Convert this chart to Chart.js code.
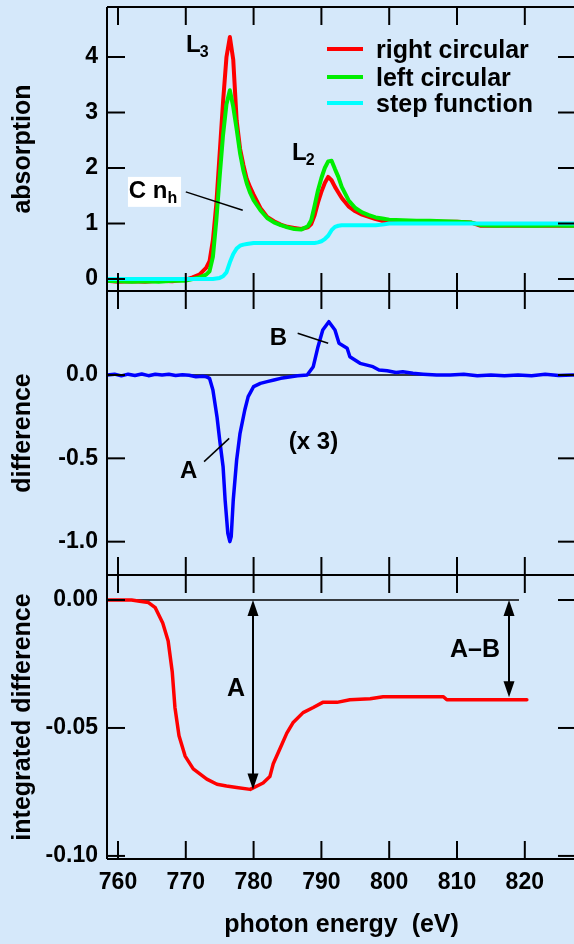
<!DOCTYPE html>
<html><head><meta charset="utf-8">
<script src="https://cdn.jsdelivr.net/npm/chart.js@4.4.1/dist/chart.umd.min.js"></script>
<style>
html,body{margin:0;padding:0;background:#d5e8fa;overflow:hidden;width:574px;height:944px;}
#wrap{position:absolute;left:0;top:0;width:578px;height:944px;}
</style></head><body><div id="wrap"><canvas id="c"></canvas></div>
<script>
// ---------- data ----------
const xTicks = [760, 770, 780, 790, 800, 810, 820];
const absTicks = [0, 1, 2, 3, 4];
const diffTicks = [-1.0, -0.5, 0.0];
const intTicks = [0.00, -0.05, -0.10];

const absEnergy = [758.4, 760, 762, 764, 766, 768, 770, 771, 772, 773, 773.5, 774, 774.5, 775, 775.5, 776, 776.5, 777, 777.5, 778, 778.5, 779, 779.5, 780, 781, 782, 783, 784, 785, 786, 787, 788, 788.5, 789, 789.5, 790, 790.5, 791, 791.5, 792, 792.5, 793, 794, 795, 796, 797, 798, 799, 800, 802, 804, 806, 808, 810, 812, 813.5, 816, 818, 820, 822, 824, 826, 828];
const rightCircular = [-0.03, -0.05, -0.04, -0.05, -0.03, -0.04, -0.01, 0.03, 0.08, 0.2, 0.32, 0.7, 1.35, 2.27, 3.2, 4.0, 4.36, 3.95, 2.86, 2.35, 2.05, 1.8, 1.65, 1.52, 1.28, 1.12, 1.04, 0.98, 0.94, 0.92, 0.9, 0.93, 0.99, 1.15, 1.38, 1.57, 1.73, 1.84, 1.78, 1.66, 1.56, 1.46, 1.31, 1.22, 1.16, 1.12, 1.08, 1.05, 1.04, 1.04, 1.04, 1.04, 1.03, 1.03, 1.02, 0.96, 0.96, 0.96, 0.96, 0.96, 0.96, 0.96, 0.96];
const leftCircular = [-0.03, -0.04, -0.05, -0.04, -0.05, -0.03, -0.03, 0.0, 0.03, 0.08, 0.14, 0.4, 1.05, 1.85, 2.6, 3.15, 3.4, 3.1, 2.7, 2.27, 1.95, 1.72, 1.55, 1.42, 1.24, 1.1, 1.02, 0.97, 0.93, 0.9, 0.89, 0.95, 1.06, 1.32, 1.6, 1.82, 2.0, 2.12, 2.13, 1.98, 1.84, 1.66, 1.42, 1.28, 1.2, 1.15, 1.11, 1.09, 1.07, 1.06, 1.05, 1.05, 1.04, 1.03, 1.02, 0.97, 0.96, 0.97, 0.96, 0.96, 0.97, 0.96, 0.96];
const stepFunction = [0.0, 0.0, 0.0, 0.0, 0.0, 0.0, 0.0, 0.0, 0.0, 0.0, 0.0, 0.0, 0.01, 0.02, 0.05, 0.12, 0.3, 0.45, 0.55, 0.6, 0.62, 0.63, 0.64, 0.65, 0.65, 0.65, 0.65, 0.65, 0.65, 0.65, 0.65, 0.65, 0.65, 0.65, 0.66, 0.68, 0.72, 0.78, 0.88, 0.94, 0.96, 0.97, 0.97, 0.97, 0.97, 0.97, 0.97, 0.98, 1.0, 1.0, 1.0, 1.0, 1.0, 1.0, 1.0, 1.0, 1.0, 1.0, 1.0, 1.0, 1.0, 1.0, 1.0];

const diffEnergy = [758.4, 759.5, 760.5, 761.5, 762.5, 763.5, 764.5, 765.5, 766.5, 767.5, 768.5, 769.5, 770.5, 771.5, 772.5, 773, 773.5, 774, 774.6, 775, 775.5, 775.8, 776.2, 776.5, 776.7, 777, 777.5, 778, 778.7, 779.2, 780, 781, 782, 783, 784, 785.5, 786.5, 787.9, 788.8, 789.5, 790.2, 791.1, 792, 792.6, 793.8, 794.2, 795.7, 797.6, 798.5, 799.7, 801, 802, 803.5, 805, 807, 809, 811, 813, 815, 817, 819, 821, 823, 825, 827, 828];
const difference = [0.0, 0.005, -0.005, 0.005, -0.003, 0.006, -0.004, 0.005, 0.0, 0.004, -0.003, 0.002, -0.002, -0.01, -0.008, -0.01, -0.02, -0.09, -0.25, -0.39, -0.55, -0.75, -0.95, -1.0, -0.97, -0.75, -0.51, -0.35, -0.21, -0.13, -0.07, -0.05, -0.04, -0.03, -0.02, -0.01, -0.005, 0.0, 0.05, 0.17, 0.27, 0.32, 0.27, 0.19, 0.16, 0.11, 0.07, 0.05, 0.03, 0.025, 0.015, 0.02, 0.01, 0.005, 0.0, 0.0, 0.005, -0.005, 0.0, -0.005, 0.0, -0.004, 0.004, -0.003, 0.0, 0.0];

const intEnergy = [758.4, 760, 762, 763.2, 764.5, 765.5, 766.6, 767.4, 768, 768.4, 769, 769.9, 771.1, 773.1, 774.6, 776, 777.5, 779.5, 781.4, 782.4, 782.9, 783.9, 784.9, 785.8, 787.3, 788.8, 790.2, 792.3, 794.2, 797.2, 799.1, 804, 808, 808.5, 812, 816, 820.3];
const integratedDiff = [0, 0, 0, -0.0005, -0.001, -0.003, -0.009, -0.016, -0.028, -0.042, -0.053, -0.061, -0.066, -0.070, -0.072, -0.0727, -0.0733, -0.074, -0.0715, -0.069, -0.064, -0.058, -0.052, -0.048, -0.044, -0.042, -0.040, -0.040, -0.039, -0.0386, -0.0378, -0.0378, -0.0378, -0.039, -0.039, -0.039, -0.039];

// ---------- helpers ----------
const pts = (xs, ys) => xs.map((x, i) => ({x: x, y: ys[i]}));
const FONT = '"Liberation Sans", Arial, Helvetica, sans-serif';

const annot = {
  L3: {x: 770.03, y: 4.09, sub: '3'},
  L2: {x: 785.66, y: 2.14, sub: '2'},
  cBox: {x1: 761.47, y1: 1.84, x2: 769.3, y2: 1.30, tx: 761.6, ty: 1.46},
  cLead: [770.0, 1.57, 778.4, 1.24],
  midA: {x: 769.14, y: -0.62},
  midALead: [772.7, -0.52, 776.4, -0.38],
  midB: {x: 782.4, y: 0.18},
  midBLead: [786.5, 0.25, 791.0, 0.19],
  x3: {x: 785.2, y: -0.444},
  botA: {x: 776.08, y: -0.0374},
  botAB: {x: 808.97, y: -0.0222},
  arrowA: {x: 779.91, from: 0, to: -0.074},
  arrowAB: {x: 817.67, from: 0, to: -0.038},
  refLine: {from: 759.56, to: 819.14, y: 0}
};

function seg(ctx, x1, y1, x2, y2) { ctx.beginPath(); ctx.moveTo(x1, y1); ctx.lineTo(x2, y2); ctx.stroke(); }

const deco = {
  id: 'deco',
  beforeDatasetsDraw(chart) {
    const {ctx, chartArea: ca, scales: s} = chart;
    ctx.save();
    ctx.strokeStyle = '#000'; ctx.lineWidth = 1.5;
    const y0 = s.yMid.getPixelForValue(0);
    seg(ctx, ca.left, y0, ca.right, y0);
    const r = annot.refLine, yb = s.yBot.getPixelForValue(r.y);
    seg(ctx, s.x.getPixelForValue(r.from), yb, s.x.getPixelForValue(r.to), yb);
    ctx.restore();
  },
  afterDatasetsDraw(chart) {
    const {ctx, chartArea: ca, scales: s} = chart;
    const X = v => s.x.getPixelForValue(v);
    ctx.save();
    ctx.strokeStyle = '#000'; ctx.fillStyle = '#000'; ctx.lineWidth = 2;
    seg(ctx, ca.left, ca.top, ca.left, ca.bottom);
    const panels = [s.yTop, s.yMid, s.yBot];
    const TL = 18;
    panels.forEach(p => {
      seg(ctx, ca.left, p.top, ca.right, p.top);
      seg(ctx, ca.left, p.bottom, ca.right, p.bottom);
      p.ticks.forEach(t => {
        const py = p.getPixelForValue(t.value);
        seg(ctx, ca.left, py, ca.left + TL, py);
        seg(ctx, ca.right - TL, py, ca.right, py);
      });
      s.x.ticks.forEach(t => {
        const px = X(t.value);
        seg(ctx, px, p.top, px, p.top + TL);
        seg(ctx, px, p.bottom - TL, px, p.bottom);
      });
    });
    // legend
    const legendY = [49, 77, 103];
    ctx.font = 'bold 25px ' + FONT; ctx.textBaseline = 'middle'; ctx.textAlign = 'left';
    [0, 1, 2].forEach((di, k) => {
      const ds = chart.data.datasets[di];
      ctx.strokeStyle = ds.borderColor; ctx.lineWidth = 4;
      seg(ctx, 327, legendY[k], 363, legendY[k]);
      ctx.fillStyle = '#000';
      ctx.fillText(ds.label, 376, legendY[k] + 2);
    });
    ctx.strokeStyle = '#000'; ctx.fillStyle = '#000';
    const subLabel = (a, sc) => {
      const x = X(a.x), y = sc.getPixelForValue(a.y);
      ctx.textBaseline = 'alphabetic';
      ctx.font = 'bold 24px ' + FONT; ctx.fillText('L', x, y);
      const w = ctx.measureText('L').width;
      ctx.font = 'bold 16px ' + FONT; ctx.fillText(a.sub, x + w - 1, y + 5);
    };
    subLabel(annot.L3, s.yTop);
    subLabel(annot.L2, s.yTop);
    const b = annot.cBox;
    ctx.fillStyle = '#fff';
    ctx.fillRect(X(b.x1), s.yTop.getPixelForValue(b.y1), X(b.x2) - X(b.x1), s.yTop.getPixelForValue(b.y2) - s.yTop.getPixelForValue(b.y1));
    ctx.fillStyle = '#000';
    ctx.textBaseline = 'alphabetic';
    ctx.font = 'bold 24px ' + FONT;
    const cx = X(b.tx), cy = s.yTop.getPixelForValue(b.ty);
    ctx.fillText('C n', cx, cy);
    const cw = ctx.measureText('C n').width;
    ctx.font = 'bold 16px ' + FONT; ctx.fillText('h', cx + cw, cy + 5);
    ctx.lineWidth = 1.5;
    const lead = (l, sc) => seg(ctx, X(l[0]), sc.getPixelForValue(l[1]), X(l[2]), sc.getPixelForValue(l[3]));
    lead(annot.cLead, s.yTop);
    lead(annot.midALead, s.yMid);
    lead(annot.midBLead, s.yMid);
    const txt = (t, a, sc, size) => { ctx.font = 'bold ' + size + 'px ' + FONT; ctx.fillText(t, X(a.x), sc.getPixelForValue(a.y)); };
    txt('A', annot.midA, s.yMid, 24);
    txt('B', annot.midB, s.yMid, 24);
    txt('(x 3)', annot.x3, s.yMid, 24);
    txt('A', annot.botA, s.yBot, 25);
    txt('A\u2013B', annot.botAB, s.yBot, 25);
    const arrow = a => {
      const x = X(a.x), y1 = s.yBot.getPixelForValue(a.from), y2 = s.yBot.getPixelForValue(a.to);
      const hl = 16, hw = 5.5;
      ctx.lineWidth = 2;
      seg(ctx, x, y1 + hl - 2, x, y2 - hl + 2);
      ctx.beginPath(); ctx.moveTo(x, y1); ctx.lineTo(x - hw, y1 + hl); ctx.lineTo(x + hw, y1 + hl); ctx.closePath(); ctx.fill();
      ctx.beginPath(); ctx.moveTo(x, y2); ctx.lineTo(x - hw, y2 - hl); ctx.lineTo(x + hw, y2 - hl); ctx.closePath(); ctx.fill();
    };
    arrow(annot.arrowA);
    arrow(annot.arrowAB);
    ctx.restore();
  }
};

const tickFont = {family: FONT, size: 23, weight: 'bold'};
const titleFont = {family: FONT, size: 25, weight: 'bold'};
const yAxis = (opts, ticksArr, fmt, title) => Object.assign({
  type: 'linear', position: 'left', stack: 'panels', stackWeight: 1, offset: false,
  grid: {display: false, drawTicks: false}, border: {display: false},
  afterBuildTicks: sc => { sc.ticks = ticksArr.map(v => ({value: v})); },
  ticks: {color: '#000', font: tickFont, padding: 9, callback: fmt},
  title: {display: true, text: title, color: '#000', font: titleFont, padding: {top: 8, bottom: 0}},
  afterFit: sc => { sc.width = 107; sc.paddingTop = 0; sc.paddingBottom = 0; }
}, opts);

const lineDs = (label, data, color, axis, order, w) => ({
  label, data, borderColor: color, backgroundColor: color, yAxisID: axis, order,
  borderWidth: w, pointRadius: 0, tension: 0, fill: false, borderJoinStyle: 'round', borderCapStyle: 'round'
});

new Chart(document.getElementById('c'), {
  type: 'line',
  data: {
    datasets: [
      lineDs('right circular', pts(absEnergy, rightCircular), '#ff0000', 'yTop', 2, 4),
      lineDs('left circular', pts(absEnergy, leftCircular), '#00ee00', 'yTop', 1, 4),
      lineDs('step function', pts(absEnergy, stepFunction), '#00ffff', 'yTop', 0, 4),
      lineDs('difference', pts(diffEnergy, difference), '#0000ff', 'yMid', 3, 3.5),
      lineDs('integrated difference', pts(intEnergy, integratedDiff), '#ff0000', 'yBot', 4, 3.5)
    ]
  },
  options: {
    responsive: true, maintainAspectRatio: false, animation: false,
    layout: {padding: {top: 7, left: 0, right: 2, bottom: 0}},
    plugins: {legend: {display: false}, tooltip: {enabled: false}},
    scales: {
      x: {
        type: 'linear', position: 'bottom', min: 758.38, max: 827.55,
        grid: {display: false, drawTicks: false}, border: {display: false},
        afterBuildTicks: sc => { sc.ticks = xTicks.map(v => ({value: v})); },
        ticks: {color: '#000', font: tickFont, padding: 10, maxRotation: 0, autoSkip: false},
        title: {display: true, text: 'photon energy  (eV)', color: '#000', font: titleFont, padding: {top: 0, bottom: 4}},
        afterFit: sc => { sc.height = 85; sc.paddingLeft = 0; sc.paddingRight = 0; }
      },
      yTop: yAxis({weight: 3, min: -0.216, max: 4.901}, absTicks, v => String(v), 'absorption'),
      yMid: yAxis({weight: 2, min: -1.2, max: 0.504}, diffTicks, v => v.toFixed(1), 'difference'),
      yBot: yAxis({weight: 1, min: -0.1012, max: 0.00977}, intTicks, v => v.toFixed(2), 'integrated difference')
    }
  },
  plugins: [deco]
});
</script></body></html>
